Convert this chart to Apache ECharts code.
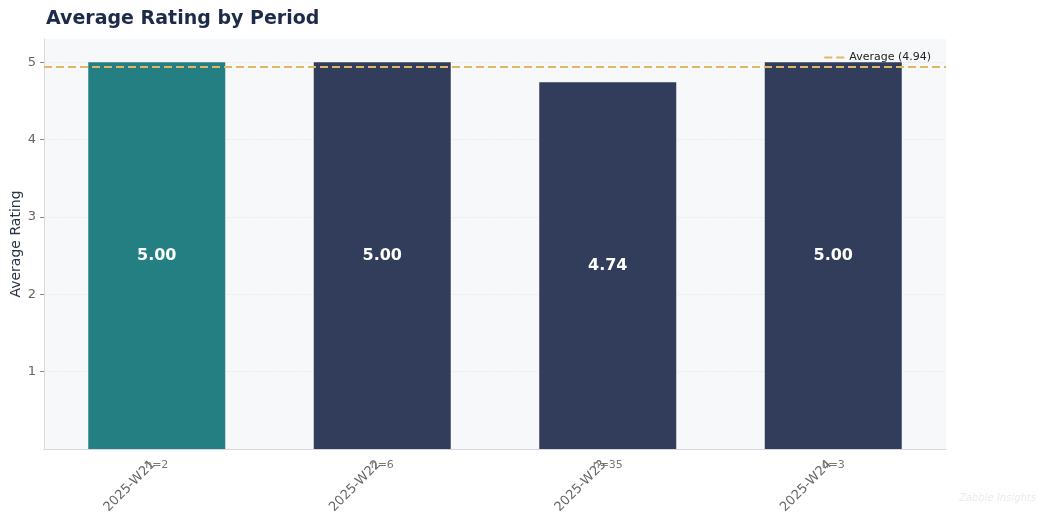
<!DOCTYPE html>
<html>
<head>
<meta charset="utf-8">
<script src="https://cdn.jsdelivr.net/npm/echarts@6/dist/echarts.min.js"></script>
<style>
html,body{margin:0;padding:0;background:#fff;}
#chart{width:1040px;height:513px;}
</style>
</head>
<body>
<div id="chart"></div>
<script>
const categories = ['2025-W21', '2025-W22', '2025-W23', '2025-W24'];
const counts = ['n=2', 'n=6', 'n=35', 'n=3'];
const ratings = [5.00, 5.00, 4.74, 5.00];
const averageRating = 4.94;
const yTicks = [1, 2, 3, 4, 5];

const barColors = ['#237f82', '#313d5a', '#313d5a', '#313d5a'];

const chart = echarts.init(document.getElementById('chart'), null, {renderer: 'canvas'});
const font = 'DejaVu Sans, sans-serif';

chart.setOption({
  animation: false,
  textStyle: {fontFamily: font},
  title: {
    text: 'Average Rating by Period',
    left: 41, top: 5,
    textStyle: {fontFamily: font, fontSize: 19, fontWeight: 'bold', color: '#1e2a4a'}
  },
  legend: {
    right: 104, top: 47,
    itemWidth: 20, itemHeight: 2, itemGap: 10,
    textStyle: {fontFamily: font, fontSize: 11, color: '#222'},
    data: [{name: 'Average (4.94)', icon: 'path://M0,0 H8 V2 H0 Z M12,0 H20 V2 H12 Z'}]
  },
  grid: {
    left: 44, right: 94, top: 39, bottom: 64,
    outerBoundsMode: 'none',
    containLabel: false,
    show: true, backgroundColor: '#f7f8fa', borderWidth: 0
  },
  xAxis: [{
    type: 'category',
    data: categories,
    axisLine: {lineStyle: {color: '#d6d8dd'}},
    axisTick: {alignWithLabel: true, length: 5, lineStyle: {color: '#777'}},
    axisLabel: {rotate: 45, margin: 10, padding: [0, 5, 0, 0], fontFamily: font, fontSize: 13, color: '#666'}
  }, {
    type: 'category',
    position: 'bottom',
    data: counts,
    axisLine: {show: false},
    axisTick: {show: false},
    axisLabel: {margin: 11, fontFamily: font, fontSize: 11, color: '#777'}
  }],
  yAxis: {
    type: 'value',
    min: 0, max: 5.3, interval: 1,
    name: 'Average Rating',
    nameLocation: 'middle',
    nameGap: 21,
    nameMoveOverlap: false,
    nameTextStyle: {fontFamily: font, fontSize: 14, color: '#2b3345'},
    axisLine: {show: true, lineStyle: {color: '#d6d8dd'}},
    axisTick: {show: true, length: 4, lineStyle: {color: '#888'},
      customValues: yTicks},
    axisLabel: {fontFamily: font, fontSize: 13, color: '#666', margin: 8,
      customValues: yTicks},
    splitLine: {show: true, lineStyle: {color: '#e6e8ec', type: 'dashed', width: 0.8}}
  },
  series: [{
    type: 'bar',
    xAxisIndex: 0,
    data: ratings.map((v, i) => ({value: v, itemStyle: {color: barColors[i]}})),
    barWidth: 137,
    label: {
      show: true, position: 'inside',
      formatter: p => p.value.toFixed(2),
      fontFamily: font, fontSize: 16, fontWeight: 'bold', color: '#ffffff'
    }
  }, {
    type: 'line',
    name: 'Average (4.94)',
    data: [],
    symbol: 'none',
    itemStyle: {color: '#e0b865'},
    lineStyle: {color: '#e0b865', type: 'dashed', width: 2},
    markLine: {
      silent: true,
      symbol: 'none',
      label: {show: false},
      lineStyle: {color: '#e0b865', type: [8, 4], width: 2},
      data: [{yAxis: averageRating}]
    }
  }],
  graphic: [{
    type: 'text',
    right: 4, bottom: 10,
    style: {text: 'Zabble Insights', fontFamily: font, fontSize: 10, fontStyle: 'italic', fill: '#ebebeb'}
  }]
});
</script>
</body>
</html>
